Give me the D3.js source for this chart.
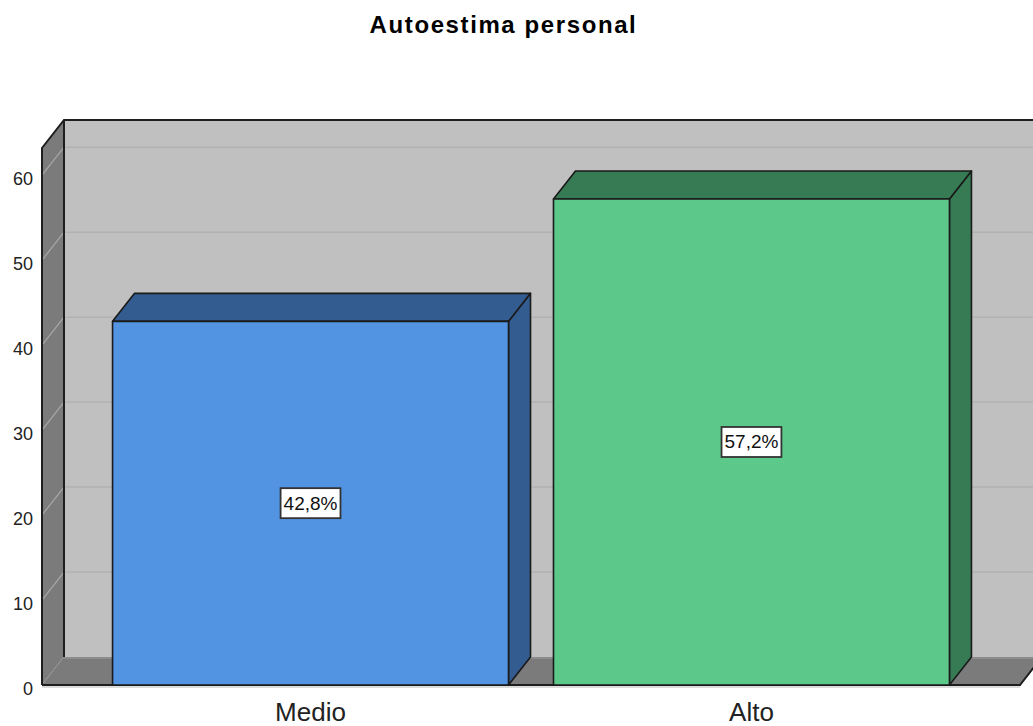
<!DOCTYPE html>
<html><head><meta charset="utf-8">
<script src="https://cdn.jsdelivr.net/npm/d3@7"></script>
<style>body{margin:0;background:#fff}svg{display:block}text{font-family:"Liberation Sans",Arial,sans-serif}</style>
</head><body>
<svg id="c" width="1033" height="726"></svg>
<script>
const categories = ["Medio", "Alto"];
const values = [42.8, 57.2];
const valueLabels = ["42,8%", "57,2%"];
const yTicks = [0, 10, 20, 30, 40, 50, 60];
const frontColors = ["#5294E2", "#5CC98A"];
const sideColors = ["#335C91", "#377B54"];
const title = "Autoestima personal";

const svg = d3.select("#c");
const DX = 22, DY = -28;
const x = d3.scaleBand().domain(categories).range([42, 1020]).paddingInner(0.102).paddingOuter(0.16);
const y = d3.scaleLinear().domain([0, 63.2]).range([685, 148]);
const line = d3.line();
const x0 = x.range()[0], x1 = x.range()[1];
const yTop = y.range()[1], y0 = y(0);

// back wall
svg.append("rect").attr("x", x0 + DX).attr("y", yTop + DY).attr("width", 1100).attr("height", y0 - yTop).attr("fill", "#C0C0C0");
// gridlines on back wall
yTicks.slice(1).forEach(v => {
  svg.append("line").attr("x1", x0 + DX).attr("x2", 1100).attr("y1", y(v) + DY).attr("y2", y(v) + DY)
    .attr("stroke", "#B2B2B2").attr("stroke-width", 1.5);
});
// side wall
svg.append("path").attr("d", line([[x0, yTop], [x0 + DX, yTop + DY], [x0 + DX, y0 + DY], [x0, y0]]) + "Z")
  .attr("fill", "#7B7B7B");
yTicks.forEach(v => {
  svg.append("line").attr("x1", x0).attr("y1", y(v)).attr("x2", x0 + DX).attr("y2", y(v) + DY)
    .attr("stroke", "#A8A8A8").attr("stroke-width", 1.2);
});
// floor
svg.append("path").attr("d", line([[x0, y0], [x0 + DX, y0 + DY], [x1 + DX, y0 + DY], [x1, y0]]) + "Z")
  .attr("fill", "#7B7B7B");
svg.append("line").attr("x1", x0 + DX).attr("x2", x1 + DX).attr("y1", y0 + DY + 1).attr("y2", y0 + DY + 1)
  .attr("stroke", "#8C8C8C").attr("stroke-width", 2);
// wall edges
const edge = {stroke: "#1E1E1E", "stroke-width": 2, fill: "none"};
function p(pts){ const el = svg.append("path").attr("d", line(pts)); Object.entries(edge).forEach(([k,v])=>el.attr(k,v)); return el; }
p([[x0, y0], [x0, yTop], [x0 + DX, yTop + DY], [1100, yTop + DY]]);
p([[x0 + DX, yTop + DY], [x0 + DX, y0 + DY]]);
p([[x0, y0], [x1, y0], [x1 + DX, y0 + DY]]);
svg.append("line").attr("x1", x0).attr("x2", x1).attr("y1", y0 + 2).attr("y2", y0 + 2).attr("stroke", "#D0D0D0").attr("stroke-width", 1.5);

// bars
const bs = {stroke: "#1A1A1A", "stroke-width": 1.6, "stroke-linejoin": "round"};
categories.forEach((c, i) => {
  const bx = x(c), bw = x.bandwidth(), by = y(values[i]);
  const g = svg.append("g");
  const side = g.append("path").attr("d", line([[bx + bw, by], [bx + bw + DX, by + DY], [bx + bw + DX, y0 + DY], [bx + bw, y0]]) + "Z").attr("fill", sideColors[i]);
  const top = g.append("path").attr("d", line([[bx, by], [bx + DX, by + DY], [bx + bw + DX, by + DY], [bx + bw, by]]) + "Z").attr("fill", sideColors[i]);
  const front = g.append("rect").attr("x", bx).attr("y", by).attr("width", bw).attr("height", y0 - by).attr("fill", frontColors[i]);
  [side, top, front].forEach(el => Object.entries(bs).forEach(([k, v]) => el.attr(k, v)));
  // label
  const cx = bx + bw / 2, cy = (by + y0) / 2;
  const t = g.append("text").attr("x", cx).attr("y", cy).attr("text-anchor", "middle").attr("dominant-baseline", "central")
    .attr("font-size", 19).attr("fill", "#111").text(valueLabels[i]);
  const w = t.node().getComputedTextLength();
  g.insert("rect", "text").attr("x", cx - w / 2 - 3).attr("y", cy - 15).attr("width", w + 6).attr("height", 30)
    .attr("fill", "#fff").attr("stroke", "#333").attr("stroke-width", 1.8);
  // category label
  svg.append("text").attr("x", cx).attr("y", 721).attr("text-anchor", "middle").attr("font-size", 26).attr("fill", "#222").text(c);
});

// y tick labels
yTicks.forEach(v => {
  svg.append("text").attr("x", 33).attr("y", y(v) + 4).attr("text-anchor", "end").attr("dominant-baseline", "central")
    .attr("font-size", 18).attr("fill", "#222").text(v);
});

// title
svg.append("text").attr("x", 503.5).attr("y", 33).attr("text-anchor", "middle").attr("font-size", 24).attr("font-weight", "bold")
  .attr("letter-spacing", 1.6).attr("fill", "#000").text(title);
</script>
</body></html>
